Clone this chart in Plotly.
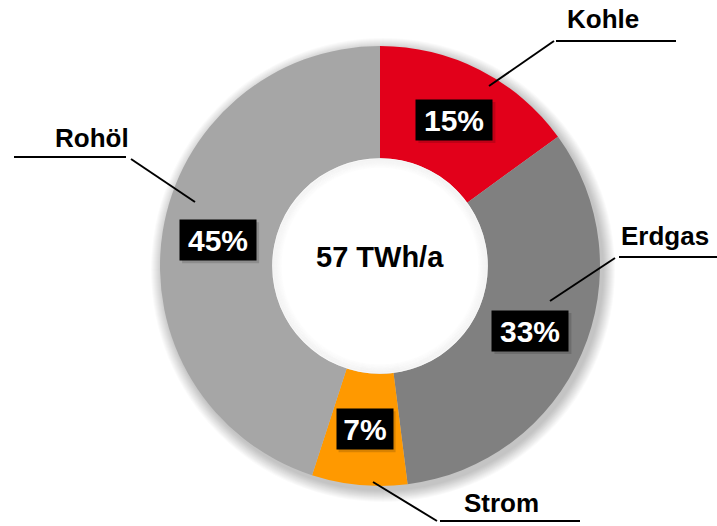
import math
import plotly.graph_objects as go

# ---- data ----
categories = ["Kohle", "Erdgas", "Strom", "Rohöl"]
shares = [15, 33, 7, 45]
colors = ["#E2001A", "#808080", "#FF9900", "#A6A6A6"]
center_label = "57 TWh/a"

W, H = 717, 526
def px(x):
    return x / W
def py(y):
    return 1 - y / H

FONT = "Liberation Sans, Arial, sans-serif"

# pie geometry (pixels)
cx, cy, R = 380, 266, 220
hole = 0.49

fig = go.Figure()
fig.add_trace(go.Pie(
    labels=categories, values=shares, sort=False, direction="clockwise", rotation=0,
    hole=hole, marker=dict(colors=colors, line=dict(width=0)),
    textinfo="none", hoverinfo="label+percent", showlegend=False,
    domain=dict(x=[px(cx - R), px(cx + R)], y=[py(cy + R), py(cy - R)]),
))

annotations = []
shapes = []

def circle(x0, y0, r, **kw):
    return dict(type="circle", xref="paper", yref="paper",
                x0=px(x0 - r), x1=px(x0 + r), y0=py(y0 + r), y1=py(y0 - r), **kw)

# soft outer shadow (below the pie)
for k in range(1, 13):
    shapes.append(circle(cx + 3, cy + 4, R + k, layer="below",
                         fillcolor="rgba(0,0,0,0.02)", line=dict(width=0)))
# white hole cover + soft inner shadow (above the pie)
rh = R * hole
shapes.append(circle(cx, cy, rh, layer="above", fillcolor="white", line=dict(width=0)))
for k in range(1, 10):
    shapes.append(circle(cx, cy, rh - k, layer="above", fillcolor="rgba(0,0,0,0)",
                         line=dict(color="rgba(0,0,0,%.3f)" % (0.04 - 0.0035 * k), width=1.5)))

# percentage boxes at slice midpoints (computed from data)
total = sum(shares)
cum = 0
rmid = R * (1 + hole) / 2
for v in shares:
    ang = math.radians((cum + v / 2) / total * 360)
    cum += v
    x = cx + rmid * math.sin(ang)
    y = cy - rmid * math.cos(ang)
    txt = "%d%%" % round(v / total * 100)
    bw = 20 * len(txt) + 16
    # box shadow
    shapes.append(dict(type="rect", xref="paper", yref="paper", layer="above",
                       x0=px(x - bw / 2 + 2), x1=px(x + bw / 2 + 3),
                       y0=py(y + 20 + 3), y1=py(y - 20 + 2),
                       fillcolor="rgba(0,0,0,0.15)", line=dict(width=0)))
    annotations.append(dict(
        x=px(x), y=py(y), xref="paper", yref="paper", showarrow=False,
        xanchor="center", yanchor="middle",
        text="<b>%s</b>" % txt,
        font=dict(family=FONT, size=30, color="white"),
        bgcolor="black", borderpad=0, width=bw, height=40,
    ))

# category labels (layout positions)
label_pos = {"Kohle": (603, 19), "Erdgas": (665, 236), "Strom": (501, 503), "Rohöl": (92, 138)}
for name in categories:
    lx, ly = label_pos[name]
    annotations.append(dict(
        x=px(lx), y=py(ly), xref="paper", yref="paper", showarrow=False,
        xanchor="center", yanchor="middle",
        text="<b>%s</b>" % name,
        font=dict(family=FONT, size=26, color="black"),
    ))

annotations.append(dict(
    x=px(cx), y=py(257), xref="paper", yref="paper", showarrow=False,
    xanchor="center", yanchor="middle",
    text="<b>%s</b>" % center_label,
    font=dict(family=FONT, size=29, color="black"),
))

leaders = [
    [(489, 86), (554, 41), (556, 41), (676, 41)],
    [(550, 301), (615, 258), (619, 257), (717, 257)],
    [(195, 202), (131, 159), (126, 157), (14, 157)],
    [(373, 482), (437, 521), (440, 521), (580, 521)],
]
for a, b, c, d in leaders:
    for p, q in ((a, b), (c, d)):
        shapes.append(dict(type="line", xref="paper", yref="paper",
                           x0=px(p[0]), y0=py(p[1]), x1=px(q[0]), y1=py(q[1]),
                           line=dict(color="black", width=2)))

fig.update_layout(
    width=W, height=H, margin=dict(l=0, r=0, t=0, b=0),
    paper_bgcolor="white", plot_bgcolor="white",
    annotations=annotations, shapes=shapes,
)
fig.write_html("out.html", config={"displayModeBar": False},
               post_script="document.body.style.margin='0';document.body.style.overflow='hidden';")
